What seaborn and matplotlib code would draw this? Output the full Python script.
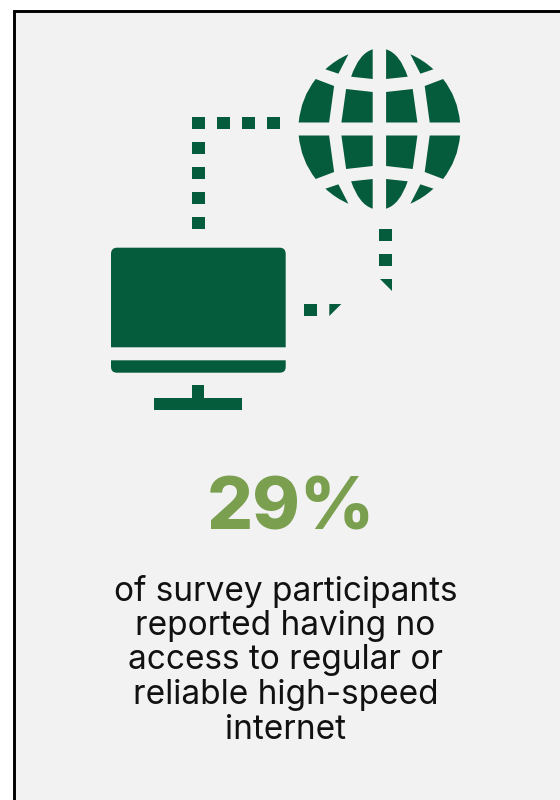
import matplotlib
matplotlib.use("Agg")
import matplotlib.pyplot as plt
import seaborn as sns
from matplotlib.path import Path
from matplotlib.patches import PathPatch, Polygon, Rectangle

sns.set_theme(style="white")
plt.rcParams['font.family'] = ['Inter', 'DejaVu Sans']

headline_value = 29
headline_label = f"{headline_value}%"
caption_lines = ["of survey participants", "reported having no", "access to regular or",
                 "reliable high-speed", "internet"]
caption_baseline = [600.7, 635, 669, 704, 739]

GREEN = "#055c3d"
OLIVE = "#7a9f4f"
PANEL = "#f2f2f2"

fig = plt.figure(figsize=(5.6, 8), dpi=100, facecolor="white")
ax = fig.add_axes([0, 0, 1, 1])
ax.set_xlim(0, 560)
ax.set_ylim(800, 0)
ax.axis("off")

ax.add_patch(Rectangle((14, 10.7), 560, 800, fc=PANEL, ec="#000000", lw=2.1))

# globe: one quadrant of panels (offset from centre), mirrored
cx, cy = 379.4, 129.0
M, L, C, Z = Path.MOVETO, Path.LINETO, Path.CURVE3, Path.CLOSEPOLY
panels = [
    ([(-80.7, -6.5), (-78.5, -31.2), (-63.7, -50), (-45.3, -43), (-50.3, -6.5), (0, 0)],
     [M, C, C, L, L, Z]),
    ([(-38, -6.5), (-33.3, -40), (-6.7, -37), (-6.7, -6.5), (0, 0)],
     [M, L, L, L, Z]),
    ([(-28.3, -52.3), (-20.5, -75.4), (-6.7, -79.7), (-6.7, -50), (0, 0)],
     [M, C, C, L, Z]),
    ([(-54, -59.7), (-43.8, -69.2), (-31, -74.7), (-41, -55.3), (0, 0)],
     [M, C, C, L, Z]),
]
for verts, codes in panels:
    for sx in (1, -1):
        for sy in (1, -1):
            pts = [(cx + sx * x, cy + sy * y) for x, y in verts]
            ax.add_patch(PathPatch(Path(pts, codes), fc=GREEN, ec="none"))

# dotted connector squares (x, y of top-left corner)
squares = [(192, 117), (217, 117), (242, 117), (267, 117),
           (192, 142), (192, 166.5), (192, 191.5), (192, 217),
           (379, 229), (379, 254), (304, 304)]
for x, y in squares:
    ax.add_patch(Rectangle((x, y), 12.5, 12.3, fc=GREEN, ec="none"))
ax.add_patch(Polygon([(329.3, 304), (341.3, 304), (329.3, 316)], fc=GREEN, ec="none"))
ax.add_patch(Polygon([(379.7, 279.3), (391.7, 279.3), (391.7, 291.3)], fc=GREEN, ec="none"))

# monitor
screen = Path([(111, 347.3), (111, 254), (111, 247.7), (117, 247.7), (279.7, 247.7), (285.7, 247.7),
               (285.7, 254), (285.7, 347.3), (0, 0)],
              [M, L, C, C, L, C, C, L, Z])
base = Path([(111, 360.3), (285.7, 360.3), (285.7, 367), (285.7, 372.7), (279.7, 372.7), (117, 372.7),
             (111, 372.7), (111, 367), (0, 0)],
            [M, L, L, C, C, L, C, C, Z])
ax.add_patch(PathPatch(screen, fc=GREEN, ec="none"))
ax.add_patch(PathPatch(base, fc=GREEN, ec="none"))
ax.add_patch(Rectangle((192, 385.3), 12.3, 13, fc=GREEN, ec="none"))
ax.add_patch(Rectangle((154.3, 397.7), 87.4, 12.3, fc=GREEN, ec="none"))

ax.text(291, 530, headline_label, ha="center", va="baseline", color=OLIVE,
        fontsize=52, fontweight=800)
for line, y in zip(caption_lines, caption_baseline):
    ax.text(285.5, y, line, ha="center", va="baseline", color="#111111",
            fontsize=24, fontweight="normal")

fig.savefig("out.png", dpi=100, facecolor="white")
